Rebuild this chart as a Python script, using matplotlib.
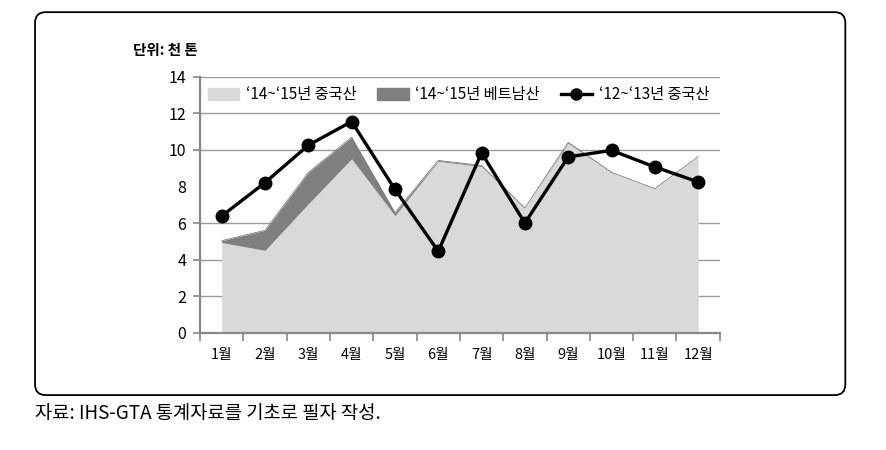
import matplotlib
matplotlib.use("Agg")
import matplotlib.pyplot as plt
from matplotlib.patches import FancyBboxPatch, Patch
from matplotlib.lines import Line2D

plt.rcParams["font.family"] = ["Noto Sans CJK KR", "DejaVu Sans"]

months = ["1월", "2월", "3월", "4월", "5월", "6월", "7월", "8월", "9월", "10월", "11월", "12월"]
china_1415 = [4.93, 4.5, 7.05, 9.52, 6.4, 9.38, 9.1, 6.82, 10.37, 8.78, 7.88, 9.64]
vietnam_1415 = [0.1, 1.1, 1.72, 1.18, 0.17, 0.05, 0.05, 0.0, 0.05, 0.0, 0.0, 0.0]
china_1213 = [6.38, 8.21, 10.26, 11.56, 7.84, 4.45, 9.84, 6.0, 9.62, 9.98, 9.07, 8.25]

labels = ["‘14~‘15년 중국산", "‘14~‘15년 베트남산", "‘12~‘13년 중국산"]
LIGHT, DARK, GRID = "#d9d9d9", "#7f7f7f", "#9a9a9a"

fig = plt.figure(figsize=(8.87, 4.5), dpi=100)
ax = fig.add_axes([0.2255, 0.2611, 0.586, 0.5678])

x = list(range(1, len(months) + 1))
top = [c + v for c, v in zip(china_1415, vietnam_1415)]

# grille (pas de ligne à 8 dans l'original)
for yv in [2, 4, 6, 10, 12, 14]:
    ax.axhline(yv, color=GRID, lw=1.0, zorder=0)

ax.fill_between(x, 0, china_1415, color=LIGHT, lw=0, zorder=1)
ax.fill_between(x, china_1415, top, color=DARK, lw=0, zorder=1)
ax.plot(x, top, color=DARK, lw=0.6, zorder=1)
ax.plot(x, china_1213, color="black", lw=2.4, marker="o", ms=9, zorder=3)

ax.set_xlim(0.5, 12.5)
ax.set_ylim(0, 14)
ax.set_yticks(range(0, 15, 2))
ax.tick_params(axis="y", direction="out", length=5, width=1.2, color="#888888",
               labelsize=11.5, pad=5)
ax.yaxis.get_major_ticks()[4].tick1line.set_visible(False)

ax.set_xticks([i + 0.5 for i in range(0, 13)])
ax.set_xticklabels([])
ax.set_xticks(x, minor=True)
ax.set_xticklabels(months, minor=True, fontsize=10.5)
ax.tick_params(axis="x", which="major", direction="out", length=6, width=1.2, color="#888888")
ax.tick_params(axis="x", which="minor", length=0, pad=11)

for s in ["top", "right"]:
    ax.spines[s].set_visible(False)
for s in ["left", "bottom"]:
    ax.spines[s].set_color("#888888")
    ax.spines[s].set_linewidth(1.6)

handles = [Patch(color=LIGHT), Patch(color=DARK),
           Line2D([], [], color="black", lw=2.4, marker="o", ms=8)]
ax.legend(handles, labels, loc="center left", bbox_to_anchor=(0.015, 0.93), ncol=3,
          frameon=False, fontsize=11, handlelength=2.05, handleheight=0.8,
          handletextpad=0.45, columnspacing=1.35, borderaxespad=0, borderpad=0)

fig.text(0.15, 0.889, "단위: 천 톤", fontsize=10.5, fontweight="bold", va="center")
fig.text(0.039, 0.082, "자료: IHS-GTA 통계자료를 기초로 필자 작성.", fontsize=13.5, va="center")

box = FancyBboxPatch((0.0395, 0.122), 0.9135, 0.851,
                     boxstyle="round,pad=0,rounding_size=0.012", mutation_aspect=887 / 450,
                     transform=fig.transFigure, fill=False, ec="black", lw=1.3)
fig.add_artist(box)

fig.savefig("out.png", dpi=100)
